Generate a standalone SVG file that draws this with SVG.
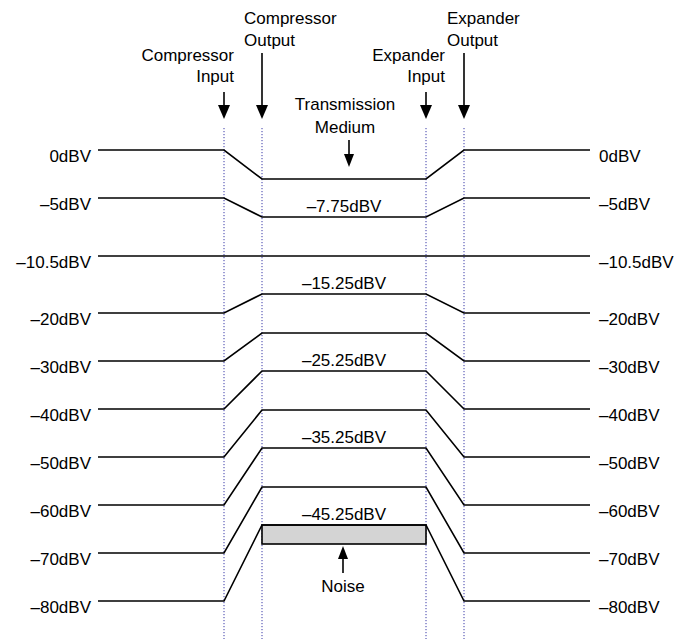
<svg xmlns="http://www.w3.org/2000/svg" width="680" height="639" viewBox="0 0 680 639">
<style>
text{font-family:"Liberation Sans",Arial,sans-serif;font-size:17px;fill:#000}
.r{text-anchor:end}
.m{text-anchor:middle}
.ln{fill:none;stroke:#000;stroke-width:1.6}
.dot{fill:none;stroke:#3a3aa8;stroke-width:1;stroke-dasharray:1.2 1.8}
.ar{fill:none;stroke:#000;stroke-width:1.6}
.hd{fill:#000}
</style>
<rect width="680" height="639" fill="#fff"/>
<g id="guides">
<line class="dot" x1="224" y1="128" x2="224" y2="639"/>
<line class="dot" x1="262" y1="128" x2="262" y2="639"/>
<line class="dot" x1="426" y1="128" x2="426" y2="639"/>
<line class="dot" x1="464" y1="128" x2="464" y2="639"/>
</g>
<g id="noise-box"><rect x="262" y="525" width="164" height="19" fill="#d4d4d4" stroke="#000" stroke-width="1.6"/></g>
<g id="connectors">
<polyline class="ln" points="98,150 224,150 262,179 426,179 464,150 590,150"/>
<polyline class="ln" points="98,198 224,198 262,217 426,217 464,198 590,198"/>
<polyline class="ln" points="98,256 590,256"/>
<polyline class="ln" points="98,313 224,313 262,294 426,294 464,313 590,313"/>
<polyline class="ln" points="98,361 224,361 262,333 426,333 464,361 590,361"/>
<polyline class="ln" points="98,409 224,409 262,371 426,371 464,409 590,409"/>
<polyline class="ln" points="98,457 224,457 262,410 426,410 464,457 590,457"/>
<polyline class="ln" points="98,505 224,505 262,448 426,448 464,505 590,505"/>
<polyline class="ln" points="98,553 224,553 262,487 426,487 464,553 590,553"/>
<polyline class="ln" points="98,601 224,601 262,525 426,525 464,601 590,601"/>
<line class="ar" x1="224" y1="92" x2="224" y2="107"/><polygon class="hd" points="218,105 230,105 224,119"/>
<line class="ar" x1="262" y1="53" x2="262" y2="107"/><polygon class="hd" points="256,105 268,105 262,119"/>
<line class="ar" x1="426" y1="92" x2="426" y2="107"/><polygon class="hd" points="420,105 432,105 426,119"/>
<line class="ar" x1="464" y1="53" x2="464" y2="107"/><polygon class="hd" points="458,105 470,105 464,119"/>
<line class="ar" x1="349" y1="140" x2="349" y2="156"/><polygon class="hd" points="344,154 354,154 349,167"/>
<line class="ar" x1="343" y1="573" x2="343" y2="557"/><polygon class="hd" points="338,559 348,559 343,546"/>
</g>
<g id="top-labels">
<text class="r" x="234" y="61">Compressor</text><text class="r" x="234" y="82">Input</text>
<text x="244" y="24">Compressor</text><text x="244" y="46">Output</text>
<text class="r" x="445" y="61">Expander</text><text class="r" x="445" y="82">Input</text>
<text x="447" y="24">Expander</text><text x="447" y="46">Output</text>
<text class="m" x="345" y="110">Transmission</text><text class="m" x="345" y="133">Medium</text>
<text class="m" x="343" y="592">Noise</text>
</g>
<g id="left-labels">
<text class="r" x="91" y="162">0dBV</text>
<text class="r" x="91" y="210">–5dBV</text>
<text class="r" x="91" y="268">–10.5dBV</text>
<text class="r" x="91" y="325">–20dBV</text>
<text class="r" x="91" y="373">–30dBV</text>
<text class="r" x="91" y="421">–40dBV</text>
<text class="r" x="91" y="469">–50dBV</text>
<text class="r" x="91" y="517">–60dBV</text>
<text class="r" x="91" y="565">–70dBV</text>
<text class="r" x="91" y="613">–80dBV</text>
</g>
<g id="right-labels">
<text x="599" y="162">0dBV</text>
<text x="599" y="210">–5dBV</text>
<text x="599" y="268">–10.5dBV</text>
<text x="599" y="325">–20dBV</text>
<text x="599" y="373">–30dBV</text>
<text x="599" y="421">–40dBV</text>
<text x="599" y="469">–50dBV</text>
<text x="599" y="517">–60dBV</text>
<text x="599" y="565">–70dBV</text>
<text x="599" y="613">–80dBV</text>
</g>
<g id="mid-labels">
<text class="m" x="344" y="212">–7.75dBV</text>
<text class="m" x="344" y="289">–15.25dBV</text>
<text class="m" x="344" y="366">–25.25dBV</text>
<text class="m" x="344" y="443">–35.25dBV</text>
<text class="m" x="344" y="520">–45.25dBV</text>
</g>
</svg>
